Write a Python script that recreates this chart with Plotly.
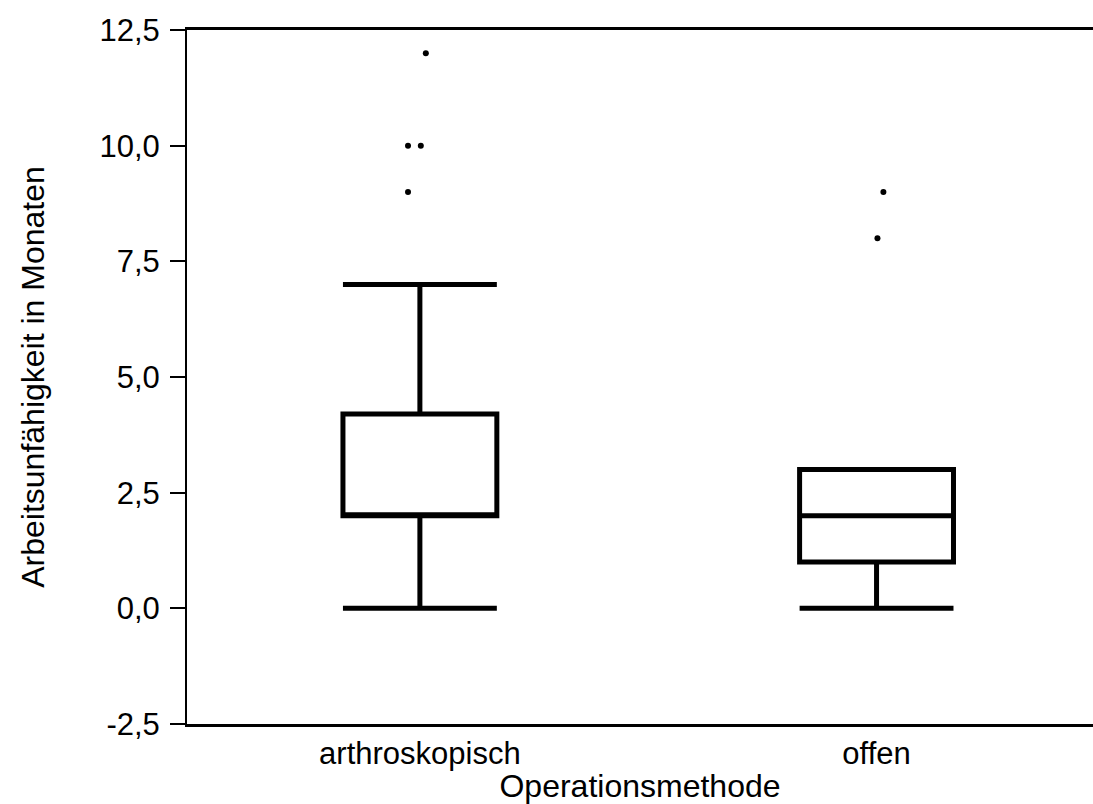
import plotly.graph_objects as go

# ---- data ----
categories = ["arthroskopisch", "offen"]
q1 = [2.0, 1.0]
median = [2.0, 2.0]
q3 = [4.2, 3.0]
lower_fence = [0.0, 0.0]
upper_fence = [7.0, 3.0]

outlier_group = [0, 0, 0, 0, 1, 1]
outlier_values = [12.0, 10.0, 10.0, 9.0, 9.0, 8.0]
outlier_jitter = [0.013, -0.026, 0.002, -0.026, 0.015, 0.002]

y_tickvals = [-2.5, 0.0, 2.5, 5.0, 7.5, 10.0, 12.5]
y_ticktext = [f"{v:.1f}".replace(".", ",") for v in y_tickvals]

FONT = "Liberation Sans, Arial, sans-serif"

fig = go.Figure()
fig.add_trace(go.Box(
    x=list(range(len(categories))),
    q1=q1, median=median, q3=q3,
    lowerfence=lower_fence, upperfence=upper_fence,
    boxpoints=False,
    width=0.337,
    whiskerwidth=1,
    fillcolor="white",
    line=dict(color="black", width=5),
    showlegend=False,
    hoverinfo="skip",
))
fig.add_trace(go.Scatter(
    x=[g + j for g, j in zip(outlier_group, outlier_jitter)],
    y=outlier_values,
    mode="markers",
    marker=dict(color="black", size=6),
    showlegend=False,
    hoverinfo="skip",
))

fig.update_layout(
    width=1093, height=804,
    margin=dict(l=187, r=0, t=30, b=80),
    plot_bgcolor="white", paper_bgcolor="white",
    font=dict(family=FONT, size=31, color="black"),
)
fig.update_xaxes(
    range=[-0.510, 1.474],
    tickmode="array", tickvals=[0, 1], ticktext=categories,
    ticks="", showgrid=False, zeroline=False,
    showline=True, linecolor="black", linewidth=3, mirror=True,
    title=dict(text="Operationsmethode", standoff=2,
               font=dict(family=FONT, size=32, color="black")),
)
fig.update_yaxes(
    range=[-2.5, 12.5],
    tickmode="array", tickvals=y_tickvals, ticktext=y_ticktext,
    ticks="outside", ticklen=15, tickwidth=2, tickcolor="black",
    ticklabelstandoff=4,
    showgrid=False, zeroline=False,
    showline=True, linecolor="black", linewidth=2,
    title=dict(text="Arbeitsunfähigkeit in Monaten", standoff=45,
               font=dict(family=FONT, size=32, color="black")),
)

fig.write_html(
    "out.html",
    config={"displayModeBar": False},
    post_script="document.body.style.margin='0';document.body.style.overflow='hidden';",
)
